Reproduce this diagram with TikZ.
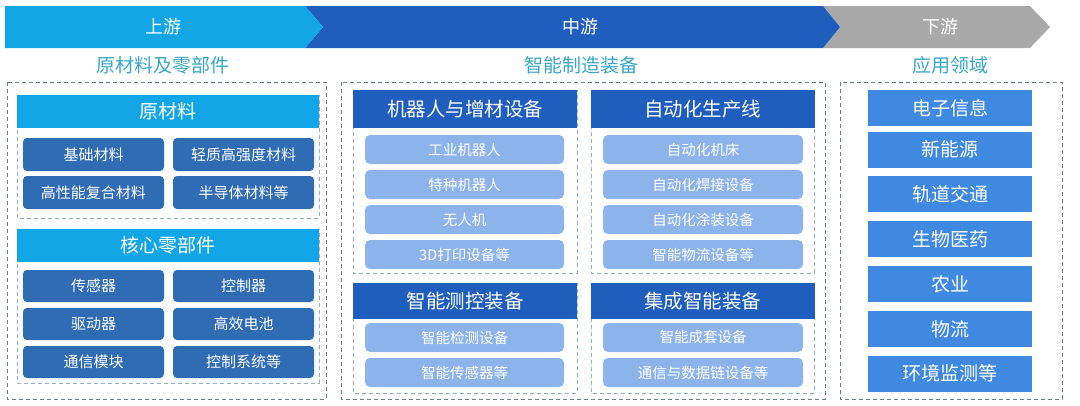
\documentclass[tikz,border=0pt]{standalone}
\usepackage{fontspec}
\setmainfont{Noto Sans CJK SC}
\usetikzlibrary{positioning}

\definecolor{upblue}{HTML}{12A6E6}
\definecolor{midblue}{HTML}{1F5EBD}
\definecolor{downgray}{HTML}{A9A9A9}
\definecolor{subteal}{HTML}{3AA6C4}
\definecolor{leftitem}{HTML}{2F6CB3}
\definecolor{miditem}{HTML}{8DB4EA}
\definecolor{rightitem}{HTML}{3F89E1}
\definecolor{boxgray}{HTML}{6E7E86}
\definecolor{boxlight}{HTML}{8FB0C8}

\tikzset{
  bantext/.style={text=white, font=\fontsize{18}{18}\selectfont},
  subtitle/.style={text=subteal, font=\fontsize{19}{19}\selectfont},
  outerbox/.style={boxgray, dashed, line width=0.9pt, dash pattern=on 4pt off 3pt},
  innerbox/.style={boxlight, dashed, line width=0.9pt, dash pattern=on 4pt off 3pt},
  uphead/.style={fill=upblue, text=white, font=\fontsize{19}{19}\selectfont,
    minimum width=302pt, minimum height=33pt, inner sep=0pt},
  upitem/.style={fill=leftitem, text=white, rounded corners=4pt, font=\fontsize{15}{15}\selectfont,
    minimum width=141pt, minimum height=33pt, inner sep=0pt},
  midhead/.style={fill=midblue, text=white, font=\fontsize{19.5}{19.5}\selectfont,
    minimum width=224pt, minimum height=37pt, inner sep=0pt},
  miditem/.style={fill=miditem, text=white, rounded corners=5pt, font=\fontsize{14.5}{14.5}\selectfont,
    minimum width=200pt, minimum height=29pt, inner sep=0pt},
  downitem/.style={fill=rightitem, text=white, font=\fontsize{19}{19}\selectfont,
    minimum width=164pt, minimum height=36pt, inner sep=0pt}
}

\begin{document}
\begin{tikzpicture}[x=1pt,y=-1pt]
\useasboundingbox (0,0) rectangle (1080,405);

% chain banner
\fill[downgray] (823,6) -- (1030,6) -- (1050,27) -- (1030,48) -- (823,48) -- (840,27) -- cycle;
\fill[midblue] (305,6) -- (823,6) -- (840,27) -- (823,48) -- (305,48) -- (323,27) -- cycle;
\fill[upblue] (5,6) -- (305,6) -- (323,27) -- (305,48) -- (5,48) -- cycle;
\node[bantext] (up) at (163,27) {上游};
\node[bantext] (mid) at (580,27) {中游};
\node[bantext] (down) at (940,27) {下游};

\node[subtitle] (upsub) at (163,65) {原材料及零部件};
\node[subtitle] (midsub) at (581,65) {智能制造装备};
\node[subtitle] (downsub) at (950,65) {应用领域};

% upstream
\draw[outerbox] (7,82) rectangle (326,399);
\draw[innerbox] (17,95) rectangle (319,218);
\draw[innerbox] (17,229) rectangle (319,383);
\node[uphead] (raw) at (168,111.5) {原材料};
\node[uphead] (core) at (168,245.5) {核心零部件};
\foreach \x/\y/\i/\label in {93.5/154.5/1/基础材料, 243.5/154.5/2/轻质高强度材料,
                              93.5/192.5/3/高性能复合材料, 243.5/192.5/4/半导体材料等}
    \node[upitem] (raw\i) at (\x,\y) {\label};
\foreach \x/\y/\i/\label in {93.5/286/1/传感器, 243.5/286/2/控制器,
                              93.5/324/3/驱动器, 243.5/324/4/高效电池,
                              93.5/362/5/通信模块, 243.5/362/6/控制系统等}
    \node[upitem, minimum height=32pt] (core\i) at (\x,\y) {\label};

% midstream
\draw[outerbox] (341,82) rectangle (825,399);
\draw[innerbox] (353,90) rectangle (577,273);
\draw[innerbox] (591,90) rectangle (814,273);
\draw[innerbox] (353,283) rectangle (577,393);
\draw[innerbox] (591,283) rectangle (814,393);
\node[midhead, minimum height=38pt] (robot) at (465,109) {机器人与增材设备};
\node[midhead, minimum height=38pt] (line) at (702.5,109) {自动化生产线};
\node[midhead, minimum height=36pt] (test) at (465,301) {智能测控装备};
\node[midhead, minimum height=36pt] (integ) at (702.5,301) {集成智能装备};
\foreach \y/\i/\label in {149.5/1/工业机器人, 184.5/2/特种机器人, 219.5/3/无人机, 254.5/4/3D打印设备等}
    \node[miditem, minimum width=199pt] (robot\i) at (464.5,\y) {\label};
\foreach \y/\i/\label in {149.5/1/自动化机床, 184.5/2/自动化焊接设备, 219.5/3/自动化涂装设备, 254.5/4/智能物流设备等}
    \node[miditem] (line\i) at (703,\y) {\label};
\foreach \y/\i/\label in {337.5/1/智能检测设备, 372.5/2/智能传感器等}
    \node[miditem, minimum width=199pt] (test\i) at (464.5,\y) {\label};
\foreach \y/\i/\label in {337.5/1/智能成套设备, 372.5/2/通信与数据链设备等}
    \node[miditem] (integ\i) at (703,\y) {\label};

% downstream
\draw[outerbox] (840,82) rectangle (1062,399);
\foreach \y/\i/\label in {108/1/电子信息, 149.5/2/新能源, 194/3/轨道交通, 239/4/生物医药,
                          284/5/农业, 329/6/物流, 373.5/7/环境监测等}
    \node[downitem] (app\i) at (950,\y) {\label};
\end{tikzpicture}
\end{document}
